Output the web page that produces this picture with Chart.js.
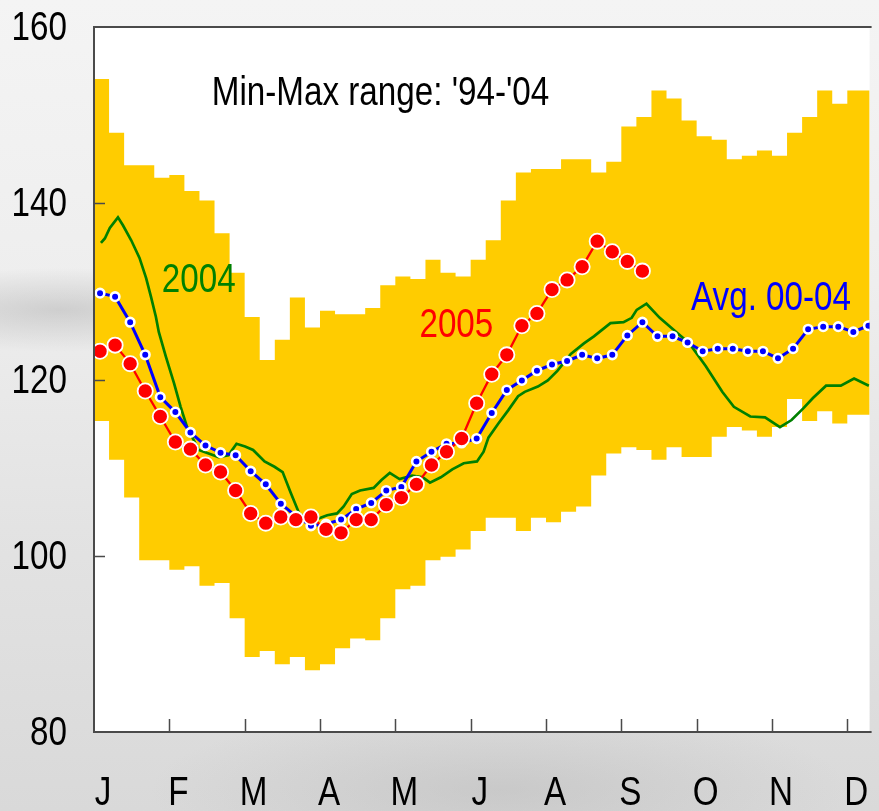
<!DOCTYPE html>
<html>
<head>
<meta charset="utf-8">
<title>Min-Max range '94-'04</title>
<script src="https://cdn.jsdelivr.net/npm/chart.js@4.4.1/dist/chart.umd.min.js"></script>
<style>
  html, body { margin: 0; padding: 0; }
  body {
    width: 879px; height: 811px; overflow: hidden;
    background:
      radial-gradient(ellipse 300px 60px at 60px 310px, rgba(150,150,150,0.35), rgba(150,150,150,0) 70%),
      radial-gradient(ellipse 500px 120px at 500px 790px, rgba(170,170,170,0.35), rgba(170,170,170,0) 70%),
      linear-gradient(180deg, #f4f4f4 0%, #eeeeee 35%, #e3e3e3 65%, #d9d9d9 100%);
  }
  #wrap { position: relative; width: 879px; height: 811px; }
</style>
</head>
<body>
<div id="wrap"><canvas id="chart"></canvas></div>
<script>
// ================= DATA =================
const monthLabels = ["J", "F", "M", "A", "M", "J", "A", "S", "O", "N", "D"];
const yTicks = [80, 100, 120, 140, 160];

// min-max range '94-'04, one value per period (5 periods per month)
const rangeMax = [153.8, 154.1, 148.0, 144.3, 144.3, 142.9, 143.2, 141.4, 140.3, 136.6,
  132.1, 127.1, 122.2, 124.5, 129.3, 125.9, 127.8, 127.4, 127.4, 128.1,
  130.7, 131.7, 131.4, 133.6, 132.1, 131.7, 133.6, 135.8, 140.3, 143.5,
  143.9, 143.9, 145.0, 145.0, 143.5, 144.7, 148.7, 149.8, 152.8, 151.9,
  149.4, 147.6, 147.2, 145.0, 145.4, 146.0, 145.4, 148.0, 149.8, 152.8,
  151.3, 152.8];
const rangeMin = [116.8, 115.3, 110.9, 106.6, 99.5, 99.5, 98.4, 98.8, 96.6, 96.9,
  92.9, 88.5, 89.2, 87.7, 88.5, 87.0, 87.7, 89.5, 90.6, 90.4,
  92.9, 96.2, 96.6, 99.5, 99.9, 100.7, 102.8, 104.3, 104.3, 102.8,
  104.3, 103.8, 105.0, 105.6, 109.1, 111.6, 112.3, 112.0, 110.9, 112.3,
  111.2, 111.2, 113.5, 114.6, 114.2, 113.5, 114.6, 117.8, 115.3, 116.4,
  115.0, 116.0];

// 2005
const y2005 = [123.2, 123.9, 121.8, 118.7, 115.8, 112.9, 112.1, 110.3, 109.5, 107.4,
  104.8, 103.7, 104.4, 104.1, 104.4, 103.0, 102.6, 104.1, 104.1, 105.8,
  106.6, 108.1, 110.3, 111.8, 113.3, 117.3, 120.6, 122.8, 126.1, 127.5,
  130.2, 131.3, 132.8, 135.7, 134.5, 133.4, 132.3];

// Avg. 00-04
const avg0004 = [129.8, 129.4, 126.5, 122.8, 118.0, 116.3, 114.0, 112.5, 111.7, 111.4,
  109.6, 108.1, 105.9, 104.5, 103.4, 103.6, 104.1, 105.3, 106.0, 107.4,
  107.8, 110.7, 111.8, 112.7, 112.8, 113.3, 116.2, 118.8, 119.9, 121.0,
  121.7, 122.1, 122.8, 122.4, 122.8, 125.0, 126.5, 124.9, 124.9, 124.2,
  123.2, 123.5, 123.5, 123.2, 123.2, 122.4, 123.5, 125.7, 126.0, 126.0,
  125.4, 126.1];

// 2004 (finer line, position in periods)
const week2004 = [0.46, 0.72, 1.05, 1.59, 1.92, 2.47, 3.02, 3.46, 3.78, 4.11,
  4.3, 4.77, 5.31, 5.75, 6.18, 6.95, 7.61, 8.26, 8.92, 9.46,
  10.03, 10.56, 11.32, 11.98, 12.52, 13.07, 13.62, 14.38, 15.04, 15.48,
  16.13, 16.57, 17.11, 17.66, 18.56, 19.08, 19.63, 20.28, 21.11, 21.82,
  22.3, 23.02, 23.78, 24.54, 25.42, 25.86, 26.18, 26.84, 27.49, 28.15,
  28.59, 29.46, 30.12, 30.77, 31.65, 32.52, 33.18, 34.28, 35.15, 35.69,
  36.02, 36.67, 37.55, 38.64, 39.52, 40.61, 41.7, 42.47, 43.56, 44.54,
  45.53, 46.3, 47.06, 47.72, 48.59, 49.57, 50.45, 51.43];
const y2004 = [135.5, 136.0, 137.2, 138.4, 137.5, 135.8, 133.8, 131.5, 129.4, 127.1,
  125.4, 122.6, 119.6, 116.9, 114.6, 112.0, 111.6, 111.2, 111.4, 112.7,
  112.4, 112.0, 110.7, 110.1, 109.5, 107.1, 104.8, 103.9, 104.3, 104.6,
  104.8, 105.6, 107.0, 107.4, 107.7, 108.6, 109.4, 108.7, 109.1, 108.9,
  108.3, 108.9, 109.8, 110.5, 110.7, 111.8, 113.4, 115.0, 116.5, 118.1,
  118.6, 119.2, 119.9, 121.0, 122.9, 124.1, 124.9, 126.4, 126.5, 127.0,
  127.9, 128.6, 127.0, 125.4, 124.1, 121.5, 118.6, 116.9, 115.8, 115.7,
  114.6, 115.4, 116.7, 117.9, 119.3, 119.3, 120.1, 119.3];

const notes = [
  { text: "Min-Max range: '94-'04", x: 7.82, y: 151.15, color: "#000000" },
  { text: "2004", x: 4.5, y: 129.9, color: "#008000" },
  { text: "2005", x: 21.6, y: 124.8, color: "#ff0000" },
  { text: "Avg. 00-04", x: 39.63, y: 127.9, color: "#0000ff" }
];

// ================= HELPERS =================
const FONT = "40px 'Liberation Sans', Arial, sans-serif";
const NARROW = 0.83;          // condensed look of the original labels
const AXIS = "#4a4a4a";
const PERIODS_PER_MONTH = 5;
const X_MAX = 51.48;

const atCentre = arr => arr.map((v, i) => ({ x: i + 0.4, y: v }));
const asSteps = arr => arr.map((v, i) => ({ x: i, y: v })).concat([{ x: arr.length, y: arr[arr.length - 1] }]);

function narrowText(ctx, text, x, y, align, color) {
  ctx.save();
  ctx.translate(x, y);
  ctx.scale(NARROW, 1);
  ctx.font = FONT;
  ctx.fillStyle = color;
  ctx.textAlign = align;
  ctx.textBaseline = "alphabetic";
  ctx.fillText(text, 0, 0);
  ctx.restore();
}

// ================= PLUGIN: frame, inside ticks, labels =================
const framePlugin = {
  id: "frame",
  beforeDraw(chart) {
    const { ctx, chartArea: a } = chart;
    ctx.save();
    ctx.fillStyle = "#ffffff";
    ctx.fillRect(a.left, a.top, a.right - a.left, a.bottom - a.top);
    ctx.restore();
  },
  afterDatasetsDraw(chart) {
    const { ctx, chartArea: a, scales } = chart;

    // notes inside the plot
    notes.forEach(n => {
      narrowText(ctx, n.text, scales.x.getPixelForValue(n.x), scales.y.getPixelForValue(n.y), "left", n.color);
    });

    // axis labels (condensed), positions from the library's scales
    scales.y.ticks.forEach(t => {
      narrowText(ctx, String(t.label), a.left - 27, scales.y.getPixelForValue(t.value) + 13, "right", "#000000");
    });
    scales.x.ticks.forEach(t => {
      narrowText(ctx, String(t.label), scales.x.getPixelForValue(t.value), a.bottom + 73, "center", "#000000");
    });

    ctx.save();
    // frame
    ctx.strokeStyle = AXIS;
    ctx.lineWidth = 2;
    ctx.beginPath();
    ctx.moveTo(a.right + 2, a.top);
    ctx.lineTo(a.left, a.top);
    ctx.lineTo(a.left, a.bottom);
    ctx.lineTo(a.right + 2, a.bottom);
    ctx.stroke();

    // inside tick marks
    ctx.lineWidth = 1.5;
    ctx.beginPath();
    yTicks.slice(1, -1).forEach(v => {
      const py = Math.round(scales.y.getPixelForValue(v)) + 0.5;
      ctx.moveTo(a.left, py);
      ctx.lineTo(a.left + 11, py);
    });
    for (let m = 1; m <= monthLabels.length; m++) {
      const px = Math.round(scales.x.getPixelForValue(m * PERIODS_PER_MONTH)) + 0.5;
      if (px > a.right) break;
      ctx.moveTo(px, a.bottom);
      ctx.lineTo(px, a.bottom - 13);
    }
    ctx.stroke();
    ctx.restore();
  }
};

// ================= CHART =================
new Chart(document.getElementById("chart"), {
  type: "line",
  data: {
    datasets: [
      {
        label: "2005",
        data: atCentre(y2005),
        borderColor: "#ff0000",
        borderWidth: 2.3,
        pointRadius: 7.6,
        pointBorderWidth: 1.8,
        pointBackgroundColor: "#ff0000",
        pointBorderColor: "#ffffff",
        tension: 0,
        order: 0
      },
      {
        label: "Avg. 00-04",
        data: atCentre(avg0004),
        borderColor: "#0000ff",
        borderWidth: 3,
        pointRadius: 4.3,
        pointBorderWidth: 2.6,
        pointBackgroundColor: "#0000ff",
        pointBorderColor: "#ffffff",
        tension: 0,
        order: 1
      },
      {
        label: "2004",
        data: week2004.map((w, i) => ({ x: w, y: y2004[i] })),
        borderColor: "#008000",
        borderWidth: 2.7,
        pointRadius: 0,
        tension: 0,
        order: 2
      },
      {
        label: "Max",
        data: asSteps(rangeMax),
        stepped: "after",
        borderWidth: 0,
        borderColor: "rgba(0,0,0,0)",
        pointRadius: 0,
        backgroundColor: "#ffcc00",
        fill: "+1",
        order: 3
      },
      {
        label: "Min",
        data: asSteps(rangeMin),
        stepped: "after",
        borderWidth: 0,
        borderColor: "rgba(0,0,0,0)",
        pointRadius: 0,
        fill: false,
        order: 4
      }
    ]
  },
  options: {
    responsive: true,
    maintainAspectRatio: false,
    animation: false,
    devicePixelRatio: 1,
    layout: { padding: { top: 27, right: 0, bottom: 0, left: 0 } },
    plugins: {
      legend: { display: false },
      tooltip: { enabled: false }
    },
    scales: {
      x: {
        type: "linear",
        min: 0,
        max: X_MAX,
        grid: { display: false, drawTicks: false },
        border: { display: false },
        afterBuildTicks: scale => {
          scale.ticks = monthLabels.map((_, i) => ({ value: i * PERIODS_PER_MONTH + 0.6 }));
        },
        afterFit: scale => {
          scale.height = 79;
          scale.paddingLeft = 0;
          scale.paddingRight = 0;
        },
        ticks: {
          autoSkip: false,
          maxRotation: 0,
          padding: 31,
          color: "rgba(0,0,0,0)",
          font: { size: 40 },
          callback: (value, index) => monthLabels[index]
        }
      },
      y: {
        min: 80,
        max: 160,
        grid: { display: false, drawTicks: false },
        border: { display: false },
        afterBuildTicks: scale => {
          scale.ticks = yTicks.map(v => ({ value: v }));
        },
        afterFit: scale => {
          scale.width = 94;
          scale.paddingTop = 0;
          scale.paddingBottom = 0;
        },
        ticks: {
          padding: 27,
          color: "rgba(0,0,0,0)",
          font: { size: 40 }
        }
      }
    }
  },
  plugins: [framePlugin]
});
</script>
</body>
</html>
